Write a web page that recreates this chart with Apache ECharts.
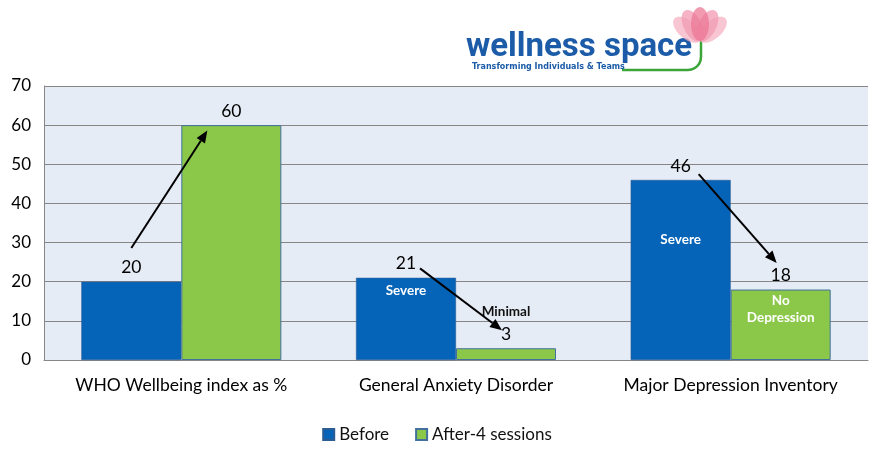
<!DOCTYPE html>
<html>
<head>
<meta charset="utf-8">
<script src="https://cdn.jsdelivr.net/npm/echarts@6/dist/echarts.min.js"></script>
<style>
    html, body { margin: 0; padding: 0; background: #fff; }
    #chart { width: 874px; height: 451px; }
</style>
</head>
<body>
<div id="chart"></div>
<script>
// chart data
const categories = ['WHO Wellbeing index as %', 'General Anxiety Disorder', 'Major Depression Inventory'];
const beforeValues = [20, 21, 46];
const afterValues = [60, 3, 18];
const yTicks = [0, 10, 20, 30, 40, 50, 60, 70];
const beforeNotes = ['', 'Severe', 'Severe'];
const afterNotes = ['', 'Minimal', 'No\nDepression'];
const seriesNames = ['Before', 'After-4 sessions'];

const BLUE = '#0563B8';
const GREEN = '#8BC84A';
const FONT = 'Lato, "Open Sans", sans-serif';
const BAR_W = 100;

const chart = echarts.init(document.getElementById('chart'), null, { renderer: 'canvas' });

chart.setOption({
    animation: false,
    textStyle: { fontFamily: FONT },
    grid: {
        left: 44,
        right: 6,
        top: 86,
        bottom: 91,
        show: true,
        backgroundColor: '#E6ECF6',
        borderWidth: 0
    },
    legend: {
        data: seriesNames,
        bottom: 3,
        left: 'center',
        itemWidth: 11,
        itemHeight: 11,
        itemGap: 26,
        icon: 'rect',
        textStyle: { fontSize: 17, color: '#111', fontFamily: FONT }
    },
    xAxis: {
        type: 'category',
        data: categories,
        axisTick: { show: false },
        axisLine: { lineStyle: { color: '#868686', width: 1 } },
        axisLabel: { color: '#000', fontSize: 17.5, margin: 16, interval: 0, fontFamily: FONT }
    },
    yAxis: {
        type: 'value',
        min: yTicks[0],
        max: yTicks[yTicks.length - 1],
        interval: 10,
        axisLine: { show: true, lineStyle: { color: '#868686', width: 1 } },
        axisTick: { show: false },
        axisLabel: { color: '#000', fontSize: 17, margin: 13, fontFamily: FONT },
        splitLine: { lineStyle: { color: '#868686', width: 1 } }
    },
    series: [
        {
            name: seriesNames[0],
            type: 'bar',
            data: beforeValues,
            barWidth: BAR_W,
            barGap: '0%',
            itemStyle: { color: BLUE, borderColor: '#2D5C93', borderWidth: 0.6 },
            label: {
                show: true,
                position: 'top',
                distance: 5,
                color: '#000',
                fontSize: 17.5,
                fontFamily: FONT
            }
        },
        {
            name: seriesNames[1],
            type: 'bar',
            data: afterValues,
            barWidth: BAR_W,
            barGap: '0%',
            itemStyle: { color: GREEN, borderColor: '#41719C', borderWidth: 1 },
            label: {
                show: true,
                position: 'top',
                distance: 4,
                color: '#000',
                fontSize: 17.5,
                fontFamily: FONT,
                formatter: function (p) {
                    if (afterNotes[p.dataIndex] === 'Minimal') {
                        return '{n|' + afterNotes[p.dataIndex] + '}\n{v|' + p.value + '}';
                    }
                    return '{v|' + p.value + '}';
                },
                rich: {
                    n: { fontSize: 13.5, fontWeight: 'bold', color: '#111', lineHeight: 26, fontFamily: FONT },
                    v: { fontSize: 17.5, color: '#000', lineHeight: 20, fontFamily: FONT }
                }
            }
        }
    ]
});

// annotation layout (px offsets from bar centres, values on the y axis)
const arrowLayout = [
    { from: [0, -1, 0, 28.6], to: [0, 1, -24, 58.6] },
    { from: [1, -1, 14, 23.4], to: [1, 1, -4, 7.6] },
    { from: [2, -1, 18, 47.5], to: [2, 1, -4, 24.8] }
];
// px below the bar top for the notes written inside the bars
const noteLayout = {
    before: [null, 13, 60],
    after: [null, null, 20]
};

const barPoint = function (cat, side, dx, value) {
    let p = chart.convertToPixel({ gridIndex: 0 }, [cat, value]);
    return [p[0] + side * BAR_W / 2 + dx, p[1]];
};

const arrowGraphic = function (a) {
    let s = barPoint(a.from[0], a.from[1], a.from[2], a.from[3]);
    let e = barPoint(a.to[0], a.to[1], a.to[2], a.to[3]);
    let ang = Math.atan2(e[1] - s[1], e[0] - s[0]);
    let len = 12, half = 5;
    let bx = e[0] - len * Math.cos(ang), by = e[1] - len * Math.sin(ang);
    let nx = -Math.sin(ang) * half, ny = Math.cos(ang) * half;
    return [
        {
            type: 'line',
            shape: { x1: s[0], y1: s[1], x2: bx, y2: by },
            style: { stroke: '#000', lineWidth: 2 },
            z: 100
        },
        {
            type: 'polygon',
            shape: { points: [e, [bx + nx, by + ny], [bx - nx, by - ny]] },
            style: { fill: '#000' },
            z: 100
        }
    ];
};

// petal outline as polygon points
const petalPoints = function (cx, cy, rx, ry, rot) {
    let pts = [];
    for (let k = 0; k < 28; k++) {
        let t = k / 28 * Math.PI * 2;
        let x = rx * Math.cos(t), y = -ry + ry * Math.sin(t);
        pts.push([cx + x * Math.cos(rot) - y * Math.sin(rot), cy + x * Math.sin(rot) + y * Math.cos(rot)]);
    }
    return pts;
};

const buildGraphics = function () {
    let elements = [];
    arrowLayout.forEach(a => { elements = elements.concat(arrowGraphic(a)); });

    beforeNotes.forEach((txt, i) => {
        if (!txt || noteLayout.before[i] == null) return;
        let p = barPoint(i, -1, 0, beforeValues[i]);
        elements.push({
            type: 'text',
            x: p[0], y: p[1] + noteLayout.before[i],
            style: { text: txt, fill: '#fff', font: 'bold 13.5px ' + FONT, align: 'center', verticalAlign: 'middle' },
            z: 100
        });
    });
    afterNotes.forEach((txt, i) => {
        if (!txt || noteLayout.after[i] == null) return;
        let p = barPoint(i, 1, 0, afterValues[i]);
        elements.push({
            type: 'text',
            x: p[0], y: p[1] + noteLayout.after[i],
            style: { text: txt, fill: '#fff', font: 'bold 13.5px ' + FONT, align: 'center', verticalAlign: 'middle', lineHeight: 17 },
            z: 100
        });
    });

    // logo: green swoosh
    let swoosh = [[622, 70], [688, 70]];
    for (let k = 1; k <= 6; k++) {
        let t = Math.PI / 2 - k / 6 * Math.PI / 2;
        swoosh.push([688 + 13 * Math.cos(t), 57 + 13 * Math.sin(t)]);
    }
    swoosh.push([701, 40]);
    elements.push(
        {
            type: 'polyline',
            shape: { points: swoosh },
            style: { stroke: '#3BA53A', lineWidth: 2.5, fill: null }
        },
        {
            type: 'text', x: 466, y: 48,
            style: { text: 'wellness space', fill: '#1B5BA8', font: 'bold 33px Roboto, sans-serif', verticalAlign: 'middle' }
        },
        {
            type: 'text', x: 472, y: 67,
            style: { text: 'Transforming Individuals & Teams', fill: '#1B5BA8', font: 'bold 8px "DejaVu Sans", sans-serif', verticalAlign: 'middle' }
        }
    );
    const petals = [
        { rot: 0.85, col: '#F6B3C4' }, { rot: -0.85, col: '#F6B3C4' },
        { rot: 0.45, col: '#F29AB2' }, { rot: -0.45, col: '#F29AB2' },
        { rot: 0, col: '#EC7896' }
    ];
    petals.forEach(pt => {
        elements.push({
            type: 'polygon',
            shape: { points: petalPoints(700, 41, 9, 17, pt.rot) },
            style: { fill: pt.col, opacity: 0.75 }
        });
    });
    return elements;
};

chart.setOption({ graphic: { elements: buildGraphics() } });
</script>
</body>
</html>
